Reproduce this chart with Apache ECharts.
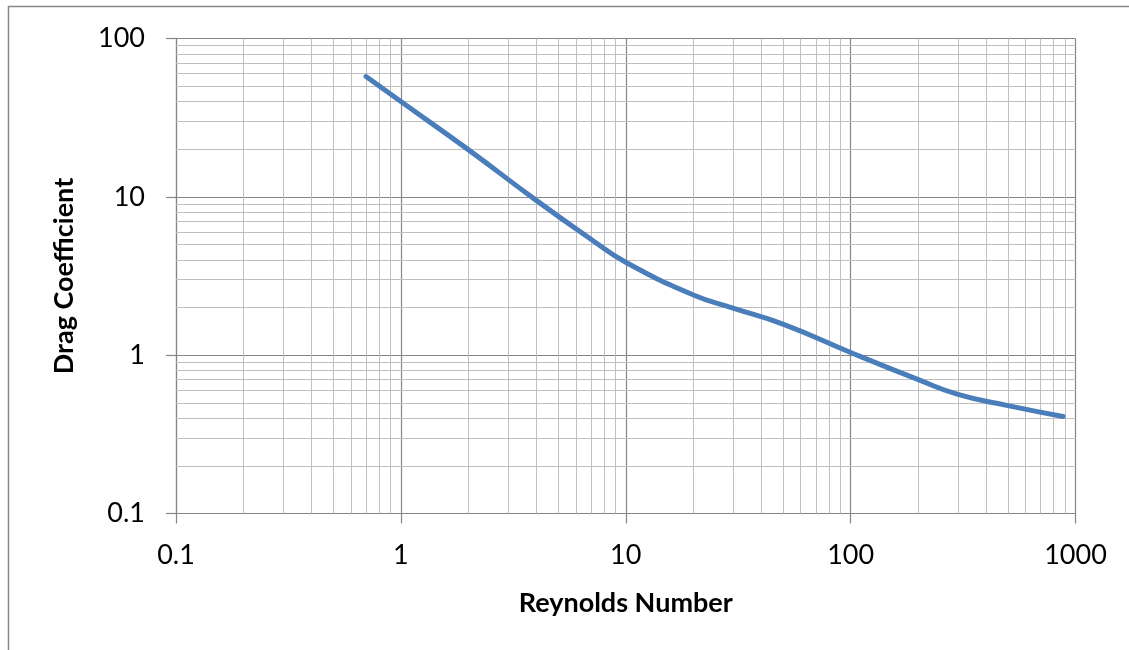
<!DOCTYPE html>
<html>
<head>
<meta charset="utf-8">
<script src="https://cdn.jsdelivr.net/npm/echarts@6/dist/echarts.min.js"></script>
<style>html,body{margin:0;padding:0;background:#fff}#c{width:1129px;height:650px}</style>
</head>
<body>
<div id="c"></div>
<script>
// Data
var reynolds = [0.7, 1, 2, 4, 7, 10, 20, 30, 50, 100, 200, 300, 500, 880];
var dragCoef = [57.5, 40, 19.8, 9.5, 5.4, 3.86, 2.4, 1.98, 1.57, 1.04, 0.70, 0.565, 0.48, 0.41];
var xDecades = [0.1, 1, 10, 100];
var yDecades = [0.1, 1, 10];
var minorSteps = [2, 3, 4, 5, 6, 7, 8, 9];

var FONT = 'Lato';
var majorColor = '#868686';
var minorColor = '#bfbfbf';

var minorX = [], minorY = [];
xDecades.forEach(function (d) { minorSteps.forEach(function (m) { minorX.push({ xAxis: +(d * m).toPrecision(3) }); }); });
yDecades.forEach(function (d) { minorSteps.forEach(function (m) { minorY.push({ yAxis: +(d * m).toPrecision(3) }); }); });

var chart = echarts.init(document.getElementById('c'), null, { renderer: 'canvas' });
chart.setOption({
  backgroundColor: '#fff',
  animation: false,
  graphic: [{
    type: 'rect', silent: true, z: -10,
    shape: { x: 8.5, y: 6.5, width: 1200, height: 800 },
    style: { fill: 'none', stroke: '#888', lineWidth: 1.5 }
  }],
  grid: { left: 176, top: 38.5, right: 53.5, bottom: 136.5, containLabel: false },
  xAxis: {
    type: 'log', logBase: 10, min: 0.1, max: 1000,
    name: 'Reynolds Number', nameLocation: 'middle', nameGap: 76,
    nameTextStyle: { fontFamily: FONT, fontWeight: 'bold', fontSize: 27, color: '#000' },
    axisLine: { show: true, lineStyle: { color: majorColor, width: 1.2 } },
    axisTick: { show: true, length: 10, lineStyle: { color: majorColor, width: 1.2 } },
    axisLabel: { fontFamily: FONT, fontSize: 27, color: '#000', margin: 28,
      formatter: function (v) { return String(+v.toPrecision(3)); } },
    splitLine: { show: true, lineStyle: { color: majorColor, width: 1.2 } },
    minorTick: { show: false }, minorSplitLine: { show: false }
  },
  yAxis: {
    type: 'log', logBase: 10, min: 0.1, max: 100,
    name: 'Drag Coefficient', nameLocation: 'middle', nameGap: 98,
    nameTextStyle: { fontFamily: FONT, fontWeight: 'bold', fontSize: 27, color: '#000' },
    axisLine: { show: true, lineStyle: { color: majorColor, width: 1.2 } },
    axisTick: { show: true, length: 10, lineStyle: { color: majorColor, width: 1.2 } },
    axisLabel: { fontFamily: FONT, fontSize: 27, color: '#000', margin: 31,
      formatter: function (v) { return String(+v.toPrecision(3)); } },
    splitLine: { show: true, lineStyle: { color: majorColor, width: 1.2 } },
    minorTick: { show: false }, minorSplitLine: { show: false }
  },
  series: [{
    type: 'line', z: -1, silent: true, data: [],
    markLine: {
      silent: true, symbol: ['none', 'none'], animation: false,
      label: { show: false },
      lineStyle: { color: minorColor, width: 1, type: 'solid' },
      emphasis: { disabled: true },
      data: minorX.concat(minorY)
    }
  }, {
    type: 'line', z: 5,
    data: reynolds.map(function (r, i) { return [r, dragCoef[i]]; }),
    smooth: 0.5, showSymbol: false, symbol: 'none',
    lineStyle: { color: '#4a7ebb', width: 5, cap: 'round', join: 'round' }
  }]
});
</script>
</body>
</html>
